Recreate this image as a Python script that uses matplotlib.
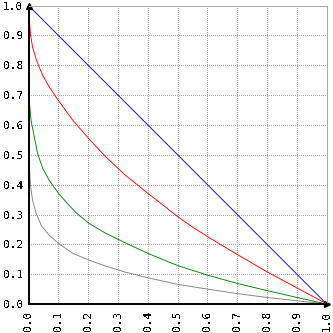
import matplotlib
matplotlib.use("Agg")
import matplotlib.pyplot as plt

plt.rcParams['font.family'] = ['DejaVu Sans Mono']
plt.rcParams['text.antialiased'] = False

ticks = [0.0, 0.1, 0.2, 0.3, 0.4, 0.5, 0.6, 0.7, 0.8, 0.9, 1.0]
tick_labels = ["0.0", "0.1", "0.2", "0.3", "0.4", "0.5", "0.6", "0.7", "0.8", "0.9", "1.0"]

line_x = [0.0, 1.0]
line_y = [1.0, 0.0]

red_x = [0.0, 0.002, 0.006, 0.013, 0.0245, 0.035, 0.047, 0.069, 0.1, 0.148, 0.203, 0.259,
         0.324, 0.368, 0.401, 0.435, 0.468, 0.5, 0.55, 0.6, 0.65, 0.7, 0.8,
         0.9, 0.96, 1.0]
red_y = [1.0, 0.958, 0.905, 0.862, 0.823, 0.795, 0.767, 0.728, 0.682, 0.616, 0.553, 0.493,
         0.432, 0.397, 0.370, 0.344, 0.318, 0.293, 0.258, 0.226, 0.196, 0.166, 0.108,
         0.054, 0.022, 0.0]

green_x = [0.0, 0.0005, 0.001, 0.002, 0.008, 0.019, 0.03, 0.047, 0.069, 0.1, 0.131,
           0.159, 0.203, 0.259, 0.3, 0.35, 0.4, 0.45, 0.5, 0.6, 0.7, 0.8,
           0.9, 1.0]
green_y = [1.0, 0.87, 0.72, 0.683, 0.616, 0.56, 0.505, 0.455, 0.415, 0.371, 0.336,
           0.306, 0.27, 0.237, 0.217, 0.193, 0.170, 0.149, 0.129, 0.097, 0.069, 0.045,
           0.022, 0.0]

gray_x = [0.0, 0.0005, 0.002, 0.006, 0.013, 0.025, 0.043, 0.069, 0.1, 0.148, 0.203,
          0.259, 0.324, 0.4, 0.5, 0.6, 0.7, 0.8, 0.9, 1.0]
gray_y = [1.0, 0.7, 0.47, 0.4, 0.348, 0.304, 0.262, 0.231, 0.203, 0.17, 0.147,
          0.127, 0.107, 0.088, 0.066, 0.050, 0.035, 0.022, 0.011, 0.0]

lw = 0.65  # thin strokes

fig = plt.figure(figsize=(3.33, 3.33), dpi=100)
ax = fig.add_axes([0.086, 0.087, 0.895, 0.896])

ax.plot(gray_x, gray_y, color='#808080', lw=lw)
ax.plot(green_x, green_y, color='#008000', lw=lw)
ax.plot(red_x, red_y, color='#ff0000', lw=lw)
ax.plot(line_x, line_y, color='#0000ff', lw=lw)

ax.set_xlim(0, 1)
ax.set_ylim(0, 1)
ax.set_xticks(ticks)
ax.set_yticks(ticks)
ax.set_xticklabels(tick_labels, rotation=90)
ax.set_yticklabels(tick_labels)
ax.tick_params(length=0, labelsize=8)
ax.tick_params(axis='y', pad=4)
ax.tick_params(axis='x', pad=5)
ax.grid(True, color='#aaaaaa', lw=0.72, linestyle=(0, (1, 2)), antialiased=False)
ax.set_axisbelow(True)

for side in ('top', 'right'):
    ax.spines[side].set_color('#aaaaaa')
    ax.spines[side].set_linewidth(0.72)
for side in ('left', 'bottom'):
    ax.spines[side].set_color('black')
    ax.spines[side].set_linewidth(1.4)

# arrow heads at the ends of the axes
ax.plot([0], [1], marker='^', color='black', ms=5, clip_on=False)
ax.plot([1], [0], marker='>', color='black', ms=5, clip_on=False)

fig.savefig("out.png", dpi=100)
